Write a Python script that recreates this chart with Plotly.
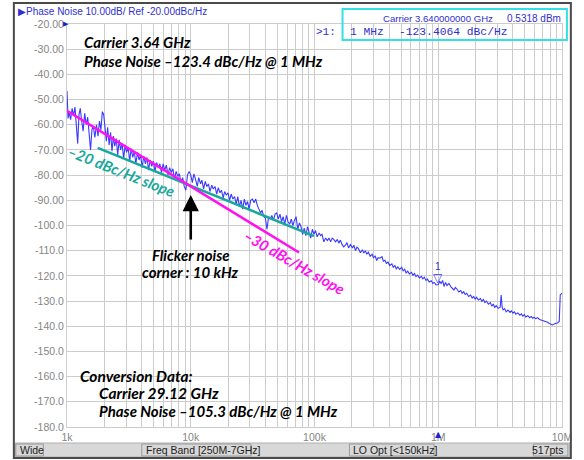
import math
import plotly.graph_objects as go

# ---------------- data ----------------
freq_khz = [
    1.00, 1.02, 1.04, 1.07, 1.10, 1.13, 1.16, 1.19, 1.22, 1.25, 1.28, 1.31, 1.35, 1.39, 1.43,
    1.47, 1.51, 1.55, 1.59, 1.63, 1.68, 1.73, 1.78, 1.83, 1.88, 1.93, 1.98, 2.03, 2.08, 2.13,
    2.19, 2.25, 2.31, 2.37, 2.43, 2.50, 2.57, 2.64, 2.71, 2.79, 2.87, 2.95, 3.03, 3.12, 3.21,
    3.30, 3.40, 3.50, 3.60, 3.71, 3.82, 3.93, 4.05, 4.17, 4.30, 4.43, 4.56, 4.70, 4.84, 4.99,
    5.14, 5.30, 5.46, 5.63, 5.80, 5.98, 6.16, 6.35, 6.55, 6.75, 6.96, 7.17, 7.39, 7.62, 7.85,
    8.09, 8.34, 8.60, 8.86, 9.13, 9.41, 9.70, 10.0, 10.3, 10.6, 10.9, 11.3, 11.6, 12.0, 12.3,
    12.7, 13.1, 13.5, 13.9, 14.3, 14.8, 15.2, 15.7, 16.2, 16.7, 17.2, 17.7, 18.3, 18.8, 19.4,
    20.0, 20.6, 21.2, 21.9, 22.6, 23.3, 24.0, 24.7, 25.5, 26.3, 27.1, 27.9, 28.8, 29.6, 30.5,
    31.5, 32.5, 33.5, 34.5, 35.5, 36.6, 37.7, 38.9, 40.1, 41.3, 42.6, 43.9, 45.2, 46.6, 48.0,
    49.5, 51.0, 52.6, 54.2, 55.8, 57.5, 59.3, 61.1, 63.0, 64.9, 66.9, 68.9, 71.0, 73.2, 75.5,
    77.8, 80.2, 82.6, 85.1, 87.8, 90.4, 93.2, 96.1, 99.0, 102, 105, 109, 112, 115, 119,
    123, 127, 131, 135, 139, 143, 148, 153, 157, 162, 167, 172,
    178.4, 183, 188.5, 195, 202.8, 208, 214.3, 220, 226.4, 235, 243.6, 250, 257.4, 265, 271.9,
    282, 292.5, 300, 309.1, 318, 326.6, 338, 351.3, 360, 371.2, 382, 392.2, 405, 421.9, 433,
    445.8, 458, 471.0, 488, 506.8, 520, 535.5, 550, 565.7, 585, 608.6, 625, 643.0, 660, 679.3,
    705, 731.1, 750, 772.4, 795, 816.0, 845, 878.0, 905, 927.7, 960, 1000, 1027, 1055, 1085,
    1114, 1145, 1177, 1220, 1266,
    1338, 1375, 1414, 1465, 1521, 1560, 1607, 1650, 1698, 1760, 1827, 1880, 1930, 1985, 2039,
    2110, 2194, 2250, 2318, 2380, 2449, 2540, 2636, 2710, 2784, 2860, 2942, 3050, 3166, 3224,
    3284, 3345, 3440, 3533, 3660, 3802, 3900, 4017, 4120, 4244, 4400, 4566, 4700, 4825, 4960,
    5097, 5290, 5484, 5640, 5794, 5950, 6121, 6350, 6587, 6958, 7351, 7650, 7910, 8356, 8830,
    9200, 9500, 9676, 10000,
]
noise_dbc = [
    -46.6, -57.5, -55.0, -58.0, -53.5, -56.5, -53.0, -60.0, -67.5, -56.0, -53.5, -58.0, -62.5, -55.5, -60.0,
    -57.0, -63.0, -70.0, -62.0, -60.5, -65.0, -60.0, -64.5, -58.5, -62.0, -54.8, -56.0, -63.0, -66.5, -61.0,
    -68.0, -63.0, -70.5, -64.5, -68.5, -65.5, -72.0, -66.0, -70.0, -67.5, -73.5, -68.0, -71.0, -69.0, -74.5,
    -69.5, -73.0, -70.5, -75.5, -71.0, -74.0, -72.0, -77.0, -72.5, -75.5, -73.0, -78.0, -74.0, -76.5, -74.5,
    -78.5, -75.0, -77.0, -75.5, -79.0, -75.5, -78.0, -76.0, -80.0, -77.0, -79.0, -77.5, -81.5, -78.5, -80.5,
    -79.5, -83.0, -81.0, -84.5, -86.0, -80.0, -78.5, -80.0, -83.0, -79.5, -81.5, -84.5, -81.0, -83.5, -82.0,
    -85.5, -82.5, -84.5, -83.5, -86.5, -84.0, -85.5, -84.5, -87.5, -85.0, -87.0, -86.0, -89.0, -86.5, -88.0,
    -87.0, -90.0, -87.5, -89.5, -88.5, -91.5, -88.5, -92.5, -90.0, -93.5, -89.5, -92.0, -90.5, -93.5, -90.0,
    -89.5, -91.0, -89.5, -92.0, -93.5, -95.0, -94.0, -96.5, -97.0, -101.5, -96.5, -97.5, -96.0, -98.0, -95.5,
    -95.0, -97.5, -95.5, -98.5, -96.5, -99.5, -96.0, -98.5, -99.5, -97.5, -100.0, -98.0, -96.5, -101.5, -99.0,
    -100.5, -103.5, -101.0, -104.0, -100.5, -102.5, -105.0, -101.5, -103.5, -102.0, -104.5, -103.0, -104.0, -103.5, -106.5,
    -105.0, -106.0, -105.0, -106.5, -105.0, -105.5, -106.5, -105.5, -107.0, -105.8, -107.5, -108.5,
    -107.7, -106.8, -108.9, -107.6, -108.9, -107.8, -110.0, -108.6, -109.2, -110.8, -109.6, -110.9, -110.0, -111.4, -110.6,
    -112.2, -111.4, -112.9, -112.0, -113.9, -112.8, -113.0, -112.4, -114.2, -113.8, -115.2, -114.4, -115.9, -115.2, -116.6,
    -115.9, -117.2, -116.4, -117.4, -116.6, -118.0, -117.4, -118.8, -118.1, -119.2, -118.6, -119.8, -119.1, -120.3, -119.7,
    -120.8, -120.2, -121.2, -120.5, -121.8, -121.3, -122.4, -121.9, -123.0, -122.6, -123.6, -123.4, -122.2, -123.0, -121.8,
    -124.2, -122.6, -123.8, -123.0, -124.4,
    -125.6, -124.6, -125.2, -126.4, -125.8, -126.9, -126.3, -127.4, -126.9, -128.2, -127.6, -128.8, -128.2, -129.2, -128.5,
    -129.6, -129.0, -130.1, -129.4, -130.6, -130.0, -131.2, -130.6, -132.0, -131.2, -132.5, -131.8, -132.9, -132.4, -127.6,
    -132.4, -133.5, -133.0, -134.3, -133.6, -134.5, -133.9, -134.8, -134.3, -135.2, -134.7, -135.6, -135.1, -136.0, -135.4,
    -136.3, -135.8, -136.6, -136.1, -136.8, -136.4, -137.0, -136.6, -137.3, -137.6, -138.0, -138.4, -138.9, -139.5, -138.9,
    -138.7, -138.1, -127.6, -126.8,
]
slope20_khz = [1.77, 99.0]
slope20_dbc = [-69.2, -104.2]
slope30_khz = [1.0, 75.0]
slope30_dbc = [-54.5, -110.7]
marker_khz = 1000
marker_dbc = -123.4
corner_khz = 10

y_tickvals = list(range(-20, -181, -10))
y_ticktext = ["-20.00", "-30.00", "-40.00", "-50.00", "-60.00", "-70.00", "-80.00", "-90.00",
              "-100.0", "-110.0", "-120.0", "-130.0", "-140.0", "-150.0", "-160.0", "-170.0", "-180.0"]
x_tickvals_hz = [1e3, 1e4, 1e5, 1e6, 1e7]
x_ticktext = ["1k", "10k", "100k", "1M", "10M"]

# ---------------- layout helpers ----------------
W, H = 584, 460
ML, MR, MT, MB = 67, 14, 24, 33
PW, PH = W - ML - MR, H - MT - MB


def px_x(x):
    return (x - ML) / PW


def px_y(y):
    return (H - MB - y) / PH


BLUE = "#3a3aff"
TEAL = "#17a89c"
MAGENTA = "#ff10f0"
GRID = "#cccccc"
TICK = "#858585"
TXTBLUE = "#2f2fd0"
BIG = "Lato, 'Open Sans', sans-serif"
SANS = "'Liberation Sans', Arial, sans-serif"
MONO = "'Liberation Mono', 'DejaVu Sans Mono', monospace"

fig = go.Figure()
fig.add_trace(go.Scatter(
    x=[f * 1000 for f in freq_khz], y=noise_dbc, mode="lines",
    line=dict(color=BLUE, width=1.1), showlegend=False, hoverinfo="skip"))
fig.add_trace(go.Scatter(
    x=[f * 1000 for f in slope20_khz], y=slope20_dbc, mode="lines",
    line=dict(color=TEAL, width=2.5), showlegend=False, hoverinfo="skip"))
fig.add_trace(go.Scatter(
    x=[f * 1000 for f in slope30_khz], y=slope30_dbc, mode="lines",
    line=dict(color=MAGENTA, width=2.5), showlegend=False, hoverinfo="skip"))

ann = []


def big(text, x, y, anchor="left", size=15, color="black", angle=0):
    ann.append(dict(text="<b><i>%s</i></b>" % text, x=x, y=y, xref="paper", yref="paper",
                    xanchor=anchor, yanchor="middle", showarrow=False, textangle=angle,
                    font=dict(family=BIG, size=size, color=color)))


big("Carrier 3.64 GHz", px_x(82), px_y(42))
big("Phase Noise –123.4 dBc/Hz @ 1 MHz", px_x(82), px_y(61))
big("Conversion Data:", px_x(78), px_y(376), size=15.5)
big("Carrier 29.12 GHz", px_x(97), px_y(393), size=15.5)
big("Phase Noise –105.3 dBc/Hz @ 1 MHz", px_x(97), px_y(411))
big("Flicker noise", px_x(193), px_y(255), anchor="center", size=15)
big("corner : 10 kHz", px_x(193), px_y(272), anchor="center", size=15)
big("–20 dBc/Hz slope", px_x(122), px_y(171), anchor="center", size=15, color=TEAL, angle=21.6)
big("–30 dBc/Hz slope", px_x(298), px_y(262), anchor="center", size=15, color=MAGENTA, angle=29.7)

# flicker corner arrow
ann.append(dict(x=math.log10(corner_khz * 1000), y=-87.9, xref="x", yref="y", ax=0, ay=46,
                axref="pixel", ayref="pixel", showarrow=True, arrowhead=2, arrowsize=1.25,
                arrowwidth=2.6, arrowcolor="black", text=""))

# marker 1
ann.append(dict(x=math.log10(marker_khz * 1000), y=marker_dbc, xref="x", yref="y", text="▽",
                showarrow=False, yanchor="bottom", yshift=-3,
                font=dict(family="DejaVu Sans", size=12, color=BLUE)))
ann.append(dict(x=math.log10(marker_khz * 1000), y=marker_dbc, xref="x", yref="y", text="1",
                showarrow=False, yanchor="bottom", yshift=10,
                font=dict(family=SANS, size=10, color="#3030c0")))
ann.append(dict(x=math.log10(marker_khz * 1000), y=-180, xref="x", yref="y", text="▲",
                showarrow=False, yanchor="top", yshift=-1,
                font=dict(family="DejaVu Sans", size=8, color="#2020d0")))

# header
ann.append(dict(text="▶Phase Noise 10.00dB/ Ref -20.00dBc/Hz", x=px_x(15), y=px_y(11),
                xref="paper", yref="paper", xanchor="left", yanchor="middle", showarrow=False,
                font=dict(family=SANS, size=10, color=TXTBLUE)))
ann.append(dict(text="▶", x=px_x(61), y=px_y(24), xref="paper", yref="paper", xanchor="left",
                yanchor="middle", showarrow=False, font=dict(family="DejaVu Sans", size=7, color="#2020c0")))


def txt(text, x, y, font, size, anchor="left", color=TXTBLUE):
    ann.append(dict(text=text, x=px_x(x), y=px_y(y), xref="paper", yref="paper", xanchor=anchor,
                    yanchor="middle", showarrow=False, font=dict(family=font, size=size, color=color)))


# marker readout box
txt("Carrier 3.640000000 GHz", 386, 18, SANS, 9.6)
txt("0.5318 dBm", 571, 18, SANS, 10, anchor="right")
txt(">1:", 342, 32, MONO, 11, anchor="right")
txt("1 MHz", 353, 32, MONO, 11.3)
txt("-123.4064 dBc/Hz", 402, 32, MONO, 11.3)

# bottom status bar
txt("Wide", 17, 450, SANS, 10.5, color="#222222")
txt("Freq Band [250M-7GHz]", 145, 450, SANS, 10.5, color="#222222")
txt("LO Opt [<150kHz]", 356, 450, SANS, 10.5, color="#222222")
txt("517pts", 574, 450, SANS, 10.5, anchor="right", color="#222222")

shapes = []


def rect(x0, y0, x1, y1, line, width, fill=None, layer="above"):
    shapes.append(dict(type="rect", xref="paper", yref="paper", x0=px_x(x0), x1=px_x(x1),
                       y0=px_y(y1), y1=px_y(y0), line=dict(color=line, width=width),
                       fillcolor=fill if fill else "rgba(0,0,0,0)", layer=layer))


rect(14, 443, 578, 457, "#b0b0b0", 1, fill="#d8d8d8", layer="below")
rect(15, 444, 43, 456, "#9a9a9a", 1)
rect(143, 444, 254, 456, "#9a9a9a", 1)
rect(354, 444, 440, 456, "#9a9a9a", 1)
rect(541, 444, 576, 456, "#9a9a9a", 1)
rect(347, 9, 575, 40, "#33e0e6", 2)
rect(13, 3, 579, 458, "#4a4a4a", 2)

fig.update_layout(
    width=W, height=H, margin=dict(l=ML, r=MR, t=MT, b=MB),
    paper_bgcolor="white", plot_bgcolor="white",
    annotations=ann, shapes=shapes, showlegend=False,
    xaxis=dict(type="log", range=[3, 7], tickvals=x_tickvals_hz, ticktext=x_ticktext,
               showgrid=True, gridcolor=GRID, gridwidth=1, zeroline=False,
               showline=True, linecolor=GRID, mirror=True, ticks="",
               minor=dict(dtick="D1", showgrid=True, gridcolor=GRID, gridwidth=1, ticks=""),
               tickfont=dict(family=SANS, size=10.5, color=TICK)),
    yaxis=dict(range=[-180, -20], tickvals=y_tickvals, ticktext=y_ticktext,
               showgrid=True, gridcolor=GRID, gridwidth=1, zeroline=False,
               showline=True, linecolor=GRID, mirror=True, ticks="",
               tickfont=dict(family=SANS, size=10.5, color=TICK)),
)

fig.write_html("out.html")
